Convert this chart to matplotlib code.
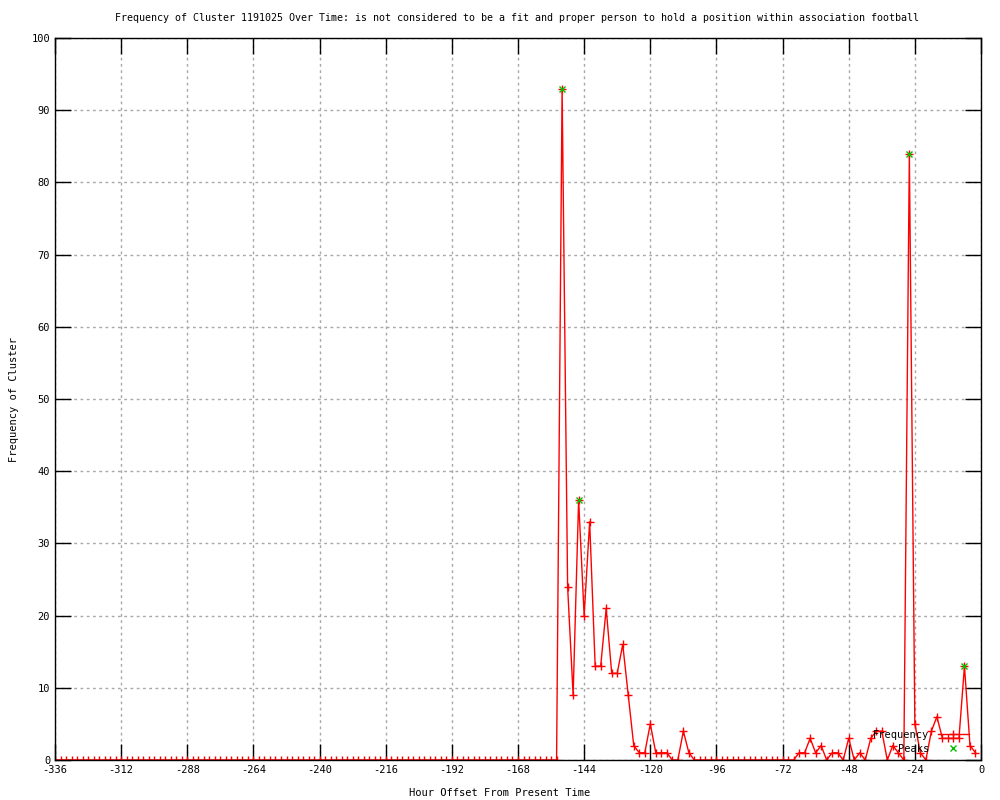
import matplotlib
matplotlib.use("Agg")
import matplotlib.pyplot as plt
from matplotlib.lines import Line2D

plt.rcParams['font.family'] = ['DejaVu Sans Mono', 'DejaVu Sans']
plt.rcParams['axes.unicode_minus'] = False

# hour offsets, one sample every 2 hours
hours = list(range(-336, 0, 2))

# frequency of the cluster at each hour offset
freq = [
    # -336 .. -154
    0, 0, 0, 0, 0, 0, 0, 0, 0, 0, 0, 0,
    0, 0, 0, 0, 0, 0, 0, 0, 0, 0, 0, 0,
    0, 0, 0, 0, 0, 0, 0, 0, 0, 0, 0, 0,
    0, 0, 0, 0, 0, 0, 0, 0, 0, 0, 0, 0,
    0, 0, 0, 0, 0, 0, 0, 0, 0, 0, 0, 0,
    0, 0, 0, 0, 0, 0, 0, 0, 0, 0, 0, 0,
    0, 0, 0, 0, 0, 0, 0, 0, 0, 0, 0, 0,
    0, 0, 0, 0, 0, 0, 0, 0,
    # -152 .. -106
    93, 24, 9, 36, 20, 33, 13, 13, 21, 12, 12, 16,
    9, 2, 1, 1, 5, 1, 1, 1, 0, 0, 4, 1,
    # -104 .. -68
    0, 0, 0, 0, 0, 0, 0, 0, 0, 0, 0, 0,
    0, 0, 0, 0, 0, 0, 0,
    # -66 .. -2
    1, 1, 3, 1, 2, 0, 1, 1, 0, 3, 0, 1,
    0, 3, 4, 4, 0, 2, 1, 0, 84, 5, 1, 0,
    4, 6, 3, 3, 3, 3, 13, 2, 1,
]

peak_hours = [-152, -146, -26, -6]
peak_vals = [93, 36, 84, 13]

xticks = list(range(-336, 1, 24))
yticks = list(range(0, 101, 10))

fig = plt.figure(figsize=(10, 8), dpi=100)
ax = fig.add_axes([0.055, 0.05, 0.926, 0.9025])

ax.plot(hours, freq, color='red', lw=1, marker='+', ms=6, mew=1,
        label='Frequency')
ax.plot(peak_hours, peak_vals, ls='none', color='#00c000', marker='x',
        ms=5, mew=1, label='Peaks')

ax.set_xlim(-336, 0)
ax.set_ylim(0, 100)
ax.set_xticks(xticks)
ax.set_yticks(yticks)
ax.tick_params(direction='in', length=11.5, width=1, top=True, right=True,
               labelsize=7.5, colors='black')
ax.grid(True, color='#a8a8a8', lw=1, ls=(0, (2, 2.5)))
for s in ax.spines.values():
    s.set_linewidth(1)

fig.text(0.517, 0.978, 'Frequency of Cluster 1191025 Over Time: is not considered to be a fit '
         'and proper person to hold a position within association football',
         ha='center', va='center', fontsize=7.2)
fig.text(0.5, 0.009, 'Hour Offset From Present Time', ha='center', va='center',
         fontsize=7.5)
fig.text(0.014, 0.5, 'Frequency of Cluster', ha='center', va='center',
         rotation=90, fontsize=7.5)

handles = [Line2D([], [], color='red', lw=1, marker='+', ms=6, mew=1),
           Line2D([], [], ls='none', color='#00c000', marker='x', ms=5, mew=1)]
ax.legend(handles, ['Frequency', 'Peaks'], loc='lower right',
          bbox_to_anchor=(0.969, 0.058), bbox_transform=fig.transFigure,
          frameon=False, markerfirst=False, fontsize=7.5, handlelength=3,
          handletextpad=0.8, labelspacing=0.35, borderpad=0, borderaxespad=0)

fig.savefig('out.png', dpi=100)
